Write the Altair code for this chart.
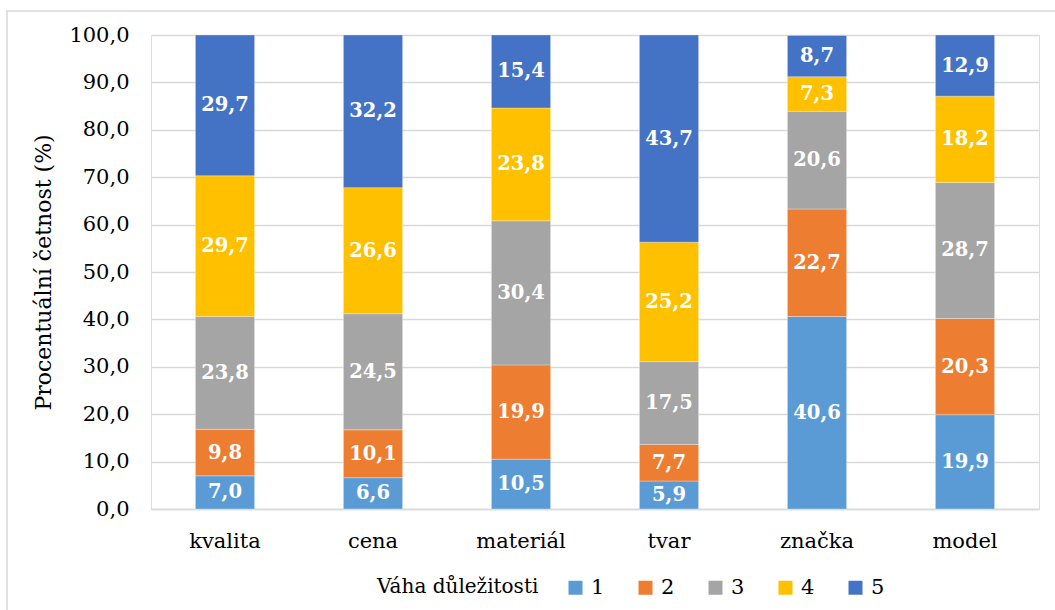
import altair as alt
import pandas as pd

# Categories (x axis) and importance weights (stack series)
categories = ["kvalita", "cena", "materiál", "tvar", "značka", "model"]
weights = ["1", "2", "3", "4", "5"]

# Percentage share of each weight per category
w1 = [7.0, 6.6, 10.5, 5.9, 40.6, 19.9]
w2 = [9.8, 10.1, 19.9, 7.7, 22.7, 20.3]
w3 = [23.8, 24.5, 30.4, 17.5, 20.6, 28.7]
w4 = [29.7, 26.6, 23.8, 25.2, 7.3, 18.2]
w5 = [29.7, 32.2, 15.4, 43.7, 8.7, 12.9]

colors = ["#5B9BD5", "#ED7D31", "#A5A5A5", "#FFC000", "#4472C4"]

rows = []
for w, series in zip(weights, [w1, w2, w3, w4, w5]):
    for c, v in zip(categories, series):
        rows.append({"kategorie": c, "vaha": w, "poradi": int(w), "hodnota": v})
df = pd.DataFrame(rows)

FONT = "DejaVu Serif"
W, H = 888, 474

base = alt.Chart(df).transform_stack(
    stack="hodnota",
    groupby=["kategorie"],
    sort=[alt.SortField("poradi", order="ascending")],
    as_=["y0", "y1"],
).transform_calculate(
    ymid="(datum.y0 + datum.y1) / 2",
    popis="replace(format(datum.hodnota, '.1f'), '.', ',')",
)

xenc = alt.X(
    "kategorie:N",
    sort=categories,
    scale=alt.Scale(paddingInner=0.6, paddingOuter=0.3),
    axis=alt.Axis(
        title=None, labelAngle=0, labelFont=FONT, labelFontSize=21,
        labelColor="#000000", labelPadding=21, ticks=False,
        domainColor="#D9D9D9", domainWidth=1.5,
    ),
)

yscale = alt.Scale(domain=[0, 100], nice=False)

bars = base.mark_bar(stroke="white", strokeWidth=0.5, strokeOpacity=0.6).encode(
    x=xenc,
    y=alt.Y(
        "y0:Q", scale=yscale,
        axis=alt.Axis(
            title="Procentuální četnost (%)", titleFont=FONT, titleFontSize=22,
            titleFontWeight="normal", titleColor="#000000", titlePadding=13,
            labelFont=FONT, labelFontSize=21, labelColor="#000000",
            labelPadding=22, ticks=False, domain=False,
            values=[0, 10, 20, 30, 40, 50, 60, 70, 80, 90, 100],
            labelExpr="replace(format(datum.value, '.1f'), '.', ',')",
            gridColor="#D9D9D9", gridWidth=1.5,
        ),
    ),
    y2="y1:Q",
    color=alt.Color(
        "vaha:N",
        scale=alt.Scale(domain=weights, range=colors),
        legend=alt.Legend(
            title="Váha důležitosti", orient="none", direction="horizontal",
            legendX=226, legendY=H + 68, titleOrient="left",
            titleFont=FONT, titleFontSize=20, titleFontWeight="normal",
            titleColor="#000000", titlePadding=26, titleBaseline="middle",
            labelFont=FONT, labelFontSize=21, labelColor="#000000",
            labelOffset=5, symbolType="square", symbolSize=196,
            symbolStrokeWidth=0, columnPadding=30,
        ),
    ),
    order=alt.Order("poradi:Q"),
)

labels = base.mark_text(
    font=FONT, fontSize=19.5, fontWeight="bold", color="white", baseline="middle",
).encode(
    x=alt.X("kategorie:N", sort=categories),
    y=alt.Y("ymid:Q", scale=yscale),
    text="popis:N",
)

# Thin frame around the whole chart area
frame = alt.Chart(pd.DataFrame({"k": [0]})).mark_rect(
    fill=None, stroke="#D9D9D9", strokeWidth=1.5
).encode(
    x=alt.value(-144), x2=alt.value(W + 30),
    y=alt.value(-24), y2=alt.value(H + 120),
)

chart = alt.layer(frame, bars, labels).properties(
    width=W, height=H,
    autosize=alt.AutoSizeParams(type="none"),
    padding={"left": 151, "top": 35, "right": 16, "bottom": 101},
).configure_view(stroke=None).configure(background="white", font=FONT)

chart.save("out.html", embed_options={"renderer": "svg", "actions": False})
